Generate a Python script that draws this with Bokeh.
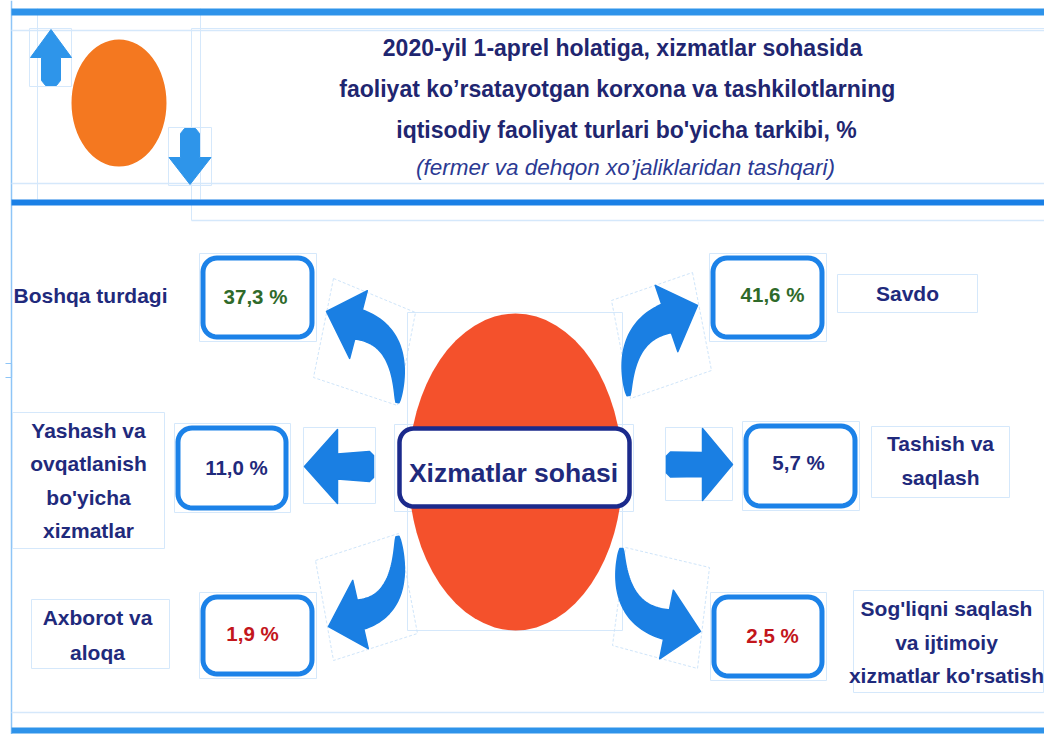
import numpy as np
from bokeh.plotting import figure
from bokeh.models import Range1d
from bokeh.core.properties import value
from bokeh.embed import file_html
from bokeh.resources import INLINE

# ---------------- data ----------------
title_lines = [
    "2020-yil 1-aprel holatiga, xizmatlar sohasida",
    "faoliyat  ko\u2019rsatayotgan korxona va tashkilotlarning",
    "iqtisodiy faoliyat turlari bo'yicha tarkibi, %",
]
subtitle = "(fermer va dehqon xo\u2019jaliklaridan tashqari)"
center_label = "Xizmatlar sohasi"

categories = [
    ["Boshqa turdagi"],
    ["Savdo"],
    ["Yashash va", "ovqatlanish", "bo'yicha", "xizmatlar"],
    ["Tashish va", "saqlash"],
    ["Axborot va", "aloqa"],
    ["Sog'liqni saqlash", "va ijtimoiy", "xizmatlar ko'rsatish"],
]
values = [37.3, 41.6, 11.0, 5.7, 1.9, 2.5]
value_colors = ["#2F6A2A", "#2F6A2A", "#1F2A7C", "#1F2A7C", "#C3161C", "#C3161C"]

# ---------------- layout (pixel positions, image coords) ----------------
NAVY = "#1F2A7C"
BLUE = "#1C82E8"
FAINT = "#D5E8FB"
FONT = value("Liberation Sans")
W, H = 1044, 734

box_pos = [(200, 255, 314, 339), (710, 255, 824, 339), (175, 425, 288, 510),
           (743, 423, 857, 508), (200, 594, 314, 676), (711, 594, 824, 678)]
val_text_pos = [(255, 296), (772, 294), (236, 467), (798, 462), (252, 633), (772, 635)]
label_cx = [90, 907, 88, 940, 97, 946]
label_ys = [[295], [293], [430, 463, 497, 530], [443, 477], [617, 652], [608, 642, 675]]
label_boxes = [None, (837, 274, 977, 312), (12, 412, 164, 548), (871, 426, 1009, 497),
               (31, 599, 169, 668), (853, 590, 1043, 692)]

p = figure(width=W, height=H, x_range=Range1d(0, W), y_range=Range1d(H, 0),
           output_backend="svg", toolbar_location=None, min_border=0)
p.axis.visible = False
p.grid.visible = False
p.outline_line_color = None
p.background_fill_color = "white"
p.border_fill_color = "white"


def rrect(x0, y0, x1, y1, r, n=10):
    xs, ys = [], []
    for cx, cy, a0, a1 in [(x1 - r, y0 + r, -90, 0), (x1 - r, y1 - r, 0, 90),
                           (x0 + r, y1 - r, 90, 180), (x0 + r, y0 + r, 180, 270)]:
        for a in np.linspace(np.radians(a0), np.radians(a1), n):
            xs.append(cx + r * np.cos(a))
            ys.append(cy + r * np.sin(a))
    return xs, ys


def curved_arrow(tail, ctrl, base, tip, w0, w1, hw, n=40):
    tail, ctrl, base, tip = [np.array(v, dtype=float) for v in (tail, ctrl, base, tip)]
    t = np.linspace(0, 1, n)[:, None]
    P = (1 - t) ** 2 * tail + 2 * (1 - t) * t * ctrl + t ** 2 * base
    D = 2 * (1 - t) * (ctrl - tail) + 2 * t * (base - ctrl)
    N = np.stack([-D[:, 1], D[:, 0]], 1) / np.linalg.norm(D, axis=1)[:, None]
    w = (w0 + (w1 - w0) * t[:, 0] ** 0.7)[:, None]
    L = P + N * w
    R = P - N * w
    nE = N[-1]
    pts = list(L) + [base + nE * hw, tip, base - nE * hw] + list(R[::-1])
    return [q[0] for q in pts], [q[1] for q in pts]


def h_arrow(tip_x, base_x, end_x, yc, hh, s0, s1):
    sg = 1 if end_x > base_x else -1
    xs = [tip_x, base_x, base_x, end_x - sg * 4, end_x, end_x, end_x - sg * 4, base_x, base_x]
    ys = [yc, yc - hh, yc - s0, yc - s1, yc - s1 + 4, yc + s1 - 4, yc + s1, yc + s0, yc + hh]
    return xs, ys


def v_arrow(tip_y, base_y, end_y, xc, hw, s):
    sg = 1 if end_y > base_y else -1
    xs = [xc, xc - hw, xc - s, xc - s, xc - s + 4, xc + s - 4, xc + s, xc + s, xc + hw]
    ys = [tip_y, base_y, base_y, end_y - sg * 5, end_y, end_y, end_y - sg * 5, base_y, base_y]
    return xs, ys


def faint_rect(x0, y0, x1, y1, color=FAINT, width=1):
    p.line([x0, x1, x1, x0, x0], [y0, y0, y1, y1, y0], line_color=color, line_width=width)


# ---------------- frame lines ----------------
p.line([11, 11], [0, H], line_color="#8EC5F7", line_width=1.5)
p.line([5, 11, 11, 5], [363, 363, 377, 377], line_color="#8EC5F7", line_width=1.2)
p.line([11, W], [30, 30], line_color=FAINT, line_width=1.5)
p.line([11, W], [183, 183], line_color=FAINT, line_width=1.5)
p.line([191, W], [220, 220], line_color=FAINT, line_width=1.5)
p.line([37, 37], [8, 199], line_color=FAINT, line_width=1)
p.line([200, 200], [8, 199], line_color=FAINT, line_width=1)
p.line([191, 191, W], [220, 28, 28], line_color=FAINT, line_width=1)
p.line([11, W], [712, 712], line_color=FAINT, line_width=1.5)
p.line([11, W], [11.5, 11.5], line_color="#2E93EA", line_width=7)
p.line([11, W], [202, 202], line_color="#1A80E6", line_width=6)
p.line([11, W], [730, 730], line_color="#2E93EA", line_width=6)

# ---------------- header icon ----------------
faint_rect(29, 28, 71, 86)
faint_rect(168, 127, 211, 185)
ux, uy = v_arrow(29, 57, 85, 50.5, 20.5, 9.5)
dx, dy = v_arrow(184, 157, 128, 189.5, 21, 9.5)
p.patches([ux, dx], [uy, dy], fill_color="#2E95EA", line_color="#2E95EA", line_width=1, line_join="round")
p.ellipse(x=[118.5], y=[102.5], width=95, height=127, fill_color="#F47820", line_color=None)

# ---------------- title ----------------
p.text(x=[622, 620, 626], y=[47, 88, 129], text=title_lines, text_align="center",
       text_baseline="middle", text_font=FONT, text_font_style="bold",
       text_font_size=value("23px"), text_color="#1F2670")
p.text(x=[625], y=[167], text=[subtitle], text_align="center", text_baseline="middle",
       text_font=FONT, text_font_style="italic", text_font_size=value("22.5px"),
       text_color="#2B3A93")

# ---------------- faint helper boxes ----------------
faint_rect(407, 312, 622, 630)
faint_rect(394, 424, 633, 511)
faint_rect(303, 427, 375, 503)
faint_rect(665, 427, 732, 500)
for (x0, y0, x1, y1) in box_pos:
    faint_rect(x0 - 1, y0 - 2, x1 + 2, y1 + 2)
for (tx, ty) in val_text_pos:
    faint_rect(tx - 34, ty - 18, tx + 36, ty + 18)
for b in label_boxes:
    if b:
        faint_rect(*b)

dashed_boxes = [
    [(333, 278), (415, 312), (397, 405), (313, 377)],
    [(692, 272), (711, 370), (630, 398), (611, 300)],
    [(315, 560), (398, 533), (417, 633), (333, 660)],
    [(625, 547), (709, 567), (697, 668), (612, 645)],
]
for q in dashed_boxes:
    p.line([c[0] for c in q] + [q[0][0]], [c[1] for c in q] + [q[0][1]],
           line_color="#CFE5FA", line_width=1, line_dash="3 2")

# ---------------- centre ----------------
p.ellipse(x=[515], y=[471.5], width=214, height=317, fill_color="#F4512C", line_color=None)
cx_, cy_ = rrect(399, 428, 629, 506, 14)
p.patch(cx_, cy_, fill_color="white", line_color="#1B2A8C", line_width=4.5, line_join="round")
p.text(x=[513], y=[472], text=[center_label], text_align="center", text_baseline="middle",
       text_font=FONT, text_font_style="bold", text_font_size=value("26.5px"), text_color=NAVY)

# ---------------- arrows ----------------
arrows_x, arrows_y = [], []
for spec in [
    ((397, 402), (404, 336), (358, 324), (326, 311)),
    ((628, 395), (622, 333), (666, 318), (697, 305)),
    ((397, 536), (404, 604), (360, 614), (328, 626)),
    ((621, 548), (616, 614), (666, 624), (700, 631)),
]:
    xs, ys = curved_arrow(*spec, w0=1.5, w1=15, hw=35)
    arrows_x.append(xs)
    arrows_y.append(ys)
for spec in [(304, 337, 373, 466, 37, 12.5, 15), (732, 702, 666, 464, 36, 12, 12.5)]:
    xs, ys = h_arrow(*spec)
    arrows_x.append(xs)
    arrows_y.append(ys)
p.patches(arrows_x, arrows_y, fill_color="#1A7FE3", line_color="#1A7FE3", line_width=1.5,
          line_join="round")

# ---------------- value boxes ----------------
bx, by = [], []
for (x0, y0, x1, y1) in box_pos:
    xs, ys = rrect(x0 + 2.5, y0 + 2.5, x1 - 2.5, y1 - 2.5, 14)
    bx.append(xs)
    by.append(ys)
p.patches(bx, by, fill_color="white", line_color=BLUE, line_width=5, line_join="round")

val_labels = [f"{v:.1f}".replace(".", ",") + " %" for v in values]
p.text(x=[t[0] for t in val_text_pos], y=[t[1] for t in val_text_pos], text=val_labels,
       text_color=value_colors, text_align="center", text_baseline="middle",
       text_font=FONT, text_font_style="bold", text_font_size=value("20.5px"))

# ---------------- category labels ----------------
lx, ly, lt = [], [], []
for lines, cx, ys in zip(categories, label_cx, label_ys):
    for line, yy in zip(lines, ys):
        lx.append(cx)
        ly.append(yy)
        lt.append(line)
p.text(x=lx, y=ly, text=lt, text_align="center", text_baseline="middle", text_font=FONT,
       text_font_style="bold", text_font_size=value("21px"), text_color=NAVY)

open("out.html", "w").write(file_html(p, INLINE))
